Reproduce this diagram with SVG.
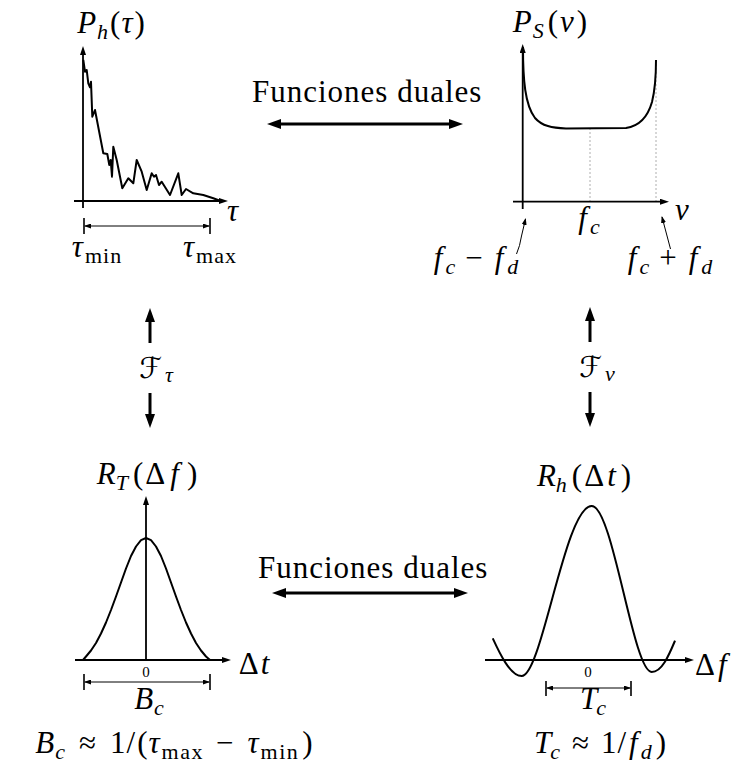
<svg xmlns="http://www.w3.org/2000/svg" width="737" height="767" viewBox="0 0 737 767">
<defs>
<style>
.bg{fill:#fff}
.ax{stroke:#000;stroke-width:1.8;fill:none;marker-end:url(#ah)}
.cv{stroke:#000;stroke-width:2;fill:none;stroke-linejoin:round}
.brl{stroke:#000;stroke-width:1;fill:none;marker-start:url(#sh);marker-end:url(#sh)}
.tk{stroke:#000;stroke-width:1.6}
.dash{stroke:#999;stroke-width:0.8;stroke-dasharray:2 2;fill:none}
.big{stroke:#000;stroke-width:3;fill:none;marker-end:url(#bh)}
.dbl{stroke:#000;stroke-width:3;fill:none;marker-start:url(#bh);marker-end:url(#bh)}
.pt{stroke:#000;stroke-width:1;fill:none;marker-end:url(#sh)}
</style>
<marker id="ah" viewBox="0 0 9 6" refX="3" refY="3" markerWidth="9" markerHeight="6" markerUnits="userSpaceOnUse" orient="auto"><path d="M0,0 L9,3 L0,6 z" fill="#000"/></marker>
<marker id="sh" viewBox="0 0 7 5" refX="6" refY="2.5" markerWidth="7" markerHeight="5" markerUnits="userSpaceOnUse" orient="auto-start-reverse"><path d="M0,0 L7,2.5 L0,5 z" fill="#000"/></marker>
<marker id="bh" viewBox="0 0 14 10" refX="4" refY="5" markerWidth="14" markerHeight="10" markerUnits="userSpaceOnUse" orient="auto-start-reverse"><path d="M0,0 L14,5 L0,10 z" fill="#000"/></marker>
</defs>
<rect class="bg" x="0" y="0" width="737" height="767"/>

<g id="plot-Ph">
<line class="ax" x1="83" y1="208" x2="83" y2="52"/>
<line class="ax" x1="74" y1="201" x2="222" y2="201"/>
<polyline class="cv" points="83.3,60 85,71.7 86.7,70 88.3,83.3 90,87.3 91,81.7 92.3,116.7 95,110 103.3,153.3 107.3,154 109.3,165 110.7,160 112,176.7 113.3,146.7 116.7,160 122.3,188.3 128.3,178.3 133.3,183.3 136.7,160 141.7,171.7 146.7,190 151.7,173.3 154,176.7 156,175 159,185 161.7,181.7 170,195 178.3,173.3 181.7,195 186,189 193.3,193.3 203.3,195 213.3,198.3 220,200.7"/>
<text font-family="Liberation Serif" font-size="31" x="111" y="33" text-anchor="middle"><tspan font-style="italic">P</tspan><tspan font-style="italic" font-size="22" dx="1" dy="6">h</tspan><tspan dx="2" dy="-6">(</tspan><tspan font-style="italic" dx="1">τ</tspan><tspan dx="2">)</tspan></text>
<text font-family="Liberation Serif" font-size="31" font-style="italic" x="227" y="221">τ</text>
<line class="tk" x1="84" y1="218" x2="84" y2="234"/>
<line class="tk" x1="210" y1="218" x2="210" y2="234"/>
<line class="brl" x1="85" y1="226" x2="209" y2="226"/>
<text font-family="Liberation Serif" font-size="31" x="97" y="257" text-anchor="middle"><tspan font-style="italic">τ</tspan><tspan font-size="22" dx="2" dy="6" letter-spacing="1">min</tspan></text>
<text font-family="Liberation Serif" font-size="31" x="210" y="257" text-anchor="middle"><tspan font-style="italic">τ</tspan><tspan font-size="22" dx="2" dy="6" letter-spacing="1">max</tspan></text>
</g>

<g id="plot-Ps">
<line class="dash" x1="590" y1="128" x2="590" y2="201"/>
<line class="dash" x1="656" y1="60" x2="656" y2="201"/>
<line class="ax" x1="522.7" y1="209" x2="522.7" y2="50"/>
<line class="ax" x1="513" y1="201.7" x2="663" y2="201.7"/>
<path class="cv" d="M523,47 C523,80 525,105 535,118 C542,126 552,128 566,128.5 L626,128 C640,126 648,116 652,102 C655,90 656,75 656,60"/>
<text font-family="Liberation Serif" font-size="31" x="550" y="32" text-anchor="middle"><tspan font-style="italic">P</tspan><tspan font-style="italic" font-size="22" dx="1" dy="6">S</tspan><tspan dx="4" dy="-6">(</tspan><tspan font-style="italic" dx="2">v</tspan><tspan dx="3">)</tspan></text>
<text font-family="Liberation Serif" font-size="31" font-style="italic" x="675" y="220">v</text>
<text font-family="Liberation Serif" font-size="31" x="589" y="228" text-anchor="middle"><tspan font-style="italic">f</tspan><tspan font-style="italic" font-size="22" dx="3" dy="6">c</tspan></text>
<text font-family="Liberation Serif" font-size="31" x="476" y="268" text-anchor="middle"><tspan font-style="italic">f</tspan><tspan font-style="italic" font-size="22" dx="3" dy="6">c</tspan><tspan dx="10" dy="-6">−</tspan><tspan font-style="italic" dx="12">f</tspan><tspan font-style="italic" font-size="22" dx="4" dy="6">d</tspan></text>
<text font-family="Liberation Serif" font-size="31" x="670" y="268" text-anchor="middle"><tspan font-style="italic">f</tspan><tspan font-style="italic" font-size="22" dx="3" dy="6">c</tspan><tspan dx="10" dy="-6">+</tspan><tspan font-style="italic" dx="12">f</tspan><tspan font-style="italic" font-size="22" dx="4" dy="6">d</tspan></text>
<path class="pt" d="M516.5,254 Q520,246 521.5,236 L525.5,219"/>
<path class="pt" d="M670.5,249 L662,217"/>
</g>

<g id="plot-Rt">
<polyline class="cv" points="83,660 86,656.5 91,650.5 96,643 101,633.5 106,622.5 111,610 116,596.5 121,582.5 126,568.5 131,556 136,546.5 141,540.2 146,538 151,540.2 156,546.5 161,556 166,568.5 171,582.5 176,596.5 181,610 186,622.5 191,633.5 196,643 201,650.5 206,656.5 210,660"/>
<line class="ax" x1="146" y1="660" x2="146" y2="502"/>
<line class="ax" x1="75" y1="660" x2="225" y2="660"/>
<text font-family="Liberation Serif" font-size="31" x="147" y="484" text-anchor="middle"><tspan font-style="italic">R</tspan><tspan font-style="italic" font-size="22" dy="6">T</tspan><tspan dx="5" dy="-6">(</tspan><tspan dx="2">Δ</tspan><tspan font-style="italic" dx="5">f</tspan><tspan dx="8">)</tspan></text>
<text font-family="Liberation Serif" font-size="31" x="254" y="674" text-anchor="middle"><tspan>Δ</tspan><tspan font-style="italic" dx="2">t</tspan></text>
<text font-family="Liberation Serif" font-size="15" x="146" y="677" text-anchor="middle">0</text>
<line class="tk" x1="84" y1="674" x2="84" y2="690"/>
<line class="tk" x1="210" y1="674" x2="210" y2="690"/>
<line class="brl" x1="85" y1="682" x2="209" y2="682"/>
<text font-family="Liberation Serif" font-size="31" x="149" y="709" text-anchor="middle"><tspan font-style="italic">B</tspan><tspan font-style="italic" font-size="22" dx="1" dy="6">c</tspan></text>
<text font-family="Liberation Serif" font-size="31" x="174" y="753" text-anchor="middle"><tspan font-style="italic">B</tspan><tspan font-style="italic" font-size="22" dx="1" dy="6">c</tspan><tspan dx="14" dy="-6">≈</tspan><tspan dx="14">1</tspan><tspan dx="1">/</tspan><tspan dx="2">(</tspan><tspan font-style="italic" dx="1">τ</tspan><tspan font-size="22" dx="2" dy="6" letter-spacing="1.5">max</tspan><tspan dx="12" dy="-6">−</tspan><tspan font-style="italic" dx="14">τ</tspan><tspan font-size="22" dx="2" dy="6" letter-spacing="1.5">min</tspan><tspan dx="3" dy="-6">)</tspan></text>
</g>

<g id="plot-Rh">
<line class="ax" x1="485" y1="660" x2="688" y2="660"/>
<path class="cv" d="M492.7,638.3 C499,652 510,676 521.7,676 C542,676 565,506 591.7,506 C613,506 633,672 651.7,672 C662,672 669,655 675,640.7"/>
<text font-family="Liberation Serif" font-size="31" x="584" y="486" text-anchor="middle"><tspan font-style="italic">R</tspan><tspan font-style="italic" font-size="22" dy="6">h</tspan><tspan dx="5" dy="-6">(</tspan><tspan dx="2">Δ</tspan><tspan font-style="italic" dx="3">t</tspan><tspan dx="5">)</tspan></text>
<text font-family="Liberation Serif" font-size="31" x="695" y="675"><tspan>Δ</tspan><tspan font-style="italic" dx="3">f</tspan></text>
<text font-family="Liberation Serif" font-size="15" x="588" y="677" text-anchor="middle">0</text>
<line class="tk" x1="546" y1="681" x2="546" y2="696"/>
<line class="tk" x1="631" y1="681" x2="631" y2="696"/>
<line class="brl" x1="547" y1="688" x2="630" y2="688"/>
<text font-family="Liberation Serif" font-size="31" x="593" y="709" text-anchor="middle"><tspan font-style="italic">T</tspan><tspan font-style="italic" font-size="22" dx="-1" dy="6">c</tspan></text>
<text font-family="Liberation Serif" font-size="31" x="600" y="753" text-anchor="middle"><tspan font-style="italic">T</tspan><tspan font-style="italic" font-size="22" dx="-1" dy="6">c</tspan><tspan dx="12" dy="-6">≈</tspan><tspan dx="12">1</tspan><tspan dx="1">/</tspan><tspan font-style="italic" dx="3">f</tspan><tspan font-style="italic" font-size="22" dx="3" dy="6">d</tspan><tspan dx="4" dy="-6">)</tspan></text>
</g>

<g id="connectors">
<text font-family="Liberation Serif" font-size="31" x="252" y="102" letter-spacing="1">Funciones duales</text>
<line class="dbl" x1="277" y1="124" x2="453" y2="124"/>
<text font-family="Liberation Serif" font-size="31" x="258" y="578" letter-spacing="1">Funciones duales</text>
<line class="dbl" x1="282" y1="593" x2="458" y2="593"/>
<line class="big" x1="150" y1="343" x2="150" y2="318"/>
<line class="big" x1="150" y1="393" x2="150" y2="418"/>
<text font-family="Liberation Serif" font-size="31" x="156" y="378" text-anchor="middle"><tspan font-family="DejaVu Sans" font-size="29">ℱ</tspan><tspan font-style="italic" font-size="22" dx="3" dy="4">τ</tspan></text>
<line class="big" x1="590" y1="342" x2="590" y2="317"/>
<line class="big" x1="590" y1="392" x2="590" y2="417"/>
<text font-family="Liberation Serif" font-size="31" x="597" y="377" text-anchor="middle"><tspan font-family="DejaVu Sans" font-size="29">ℱ</tspan><tspan font-style="italic" font-size="22" dx="3" dy="4">v</tspan></text>
</g>
</svg>
